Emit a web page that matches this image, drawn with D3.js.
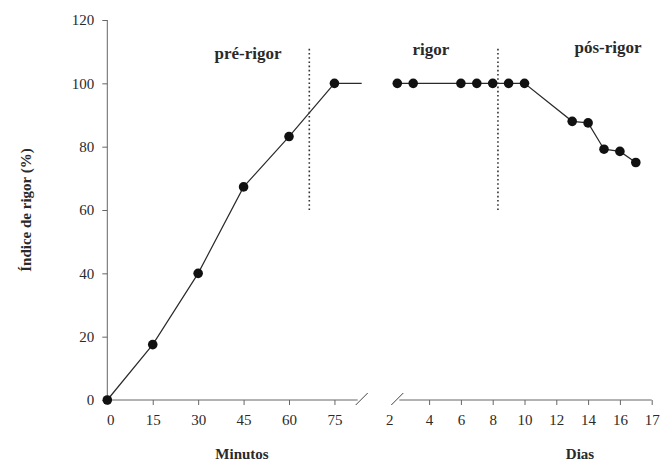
<!DOCTYPE html>
<html>
<head>
<meta charset="utf-8">
<script src="https://cdn.jsdelivr.net/npm/d3@7"></script>
<style>
  body { margin: 0; background: #fff; }
  svg text { font-family: 'Liberation Serif', 'Times New Roman', Times, 'DejaVu Serif', serif; fill: #2a2a2a; }
  .tick text { font-size: 15px; }
  .title { font-size: 15px; font-weight: bold; }
  .phase { font-size: 17px; font-weight: bold; }
</style>
</head>
<body>
<svg id="chart" width="660" height="461"></svg>
<script>
// data: minutes panel
const minutes = [0, 15, 30, 45, 60, 75];
const minutesRigor = [0, 17.5, 40, 67.3, 83.2, 100];
// data: days panel
const days = [2, 3, 6, 7, 8, 9, 10, 13, 14, 15, 16, 17];
const daysRigor = [100, 100, 100, 100, 100, 100, 100, 88, 87.5, 79.2, 78.5, 75];

const yTicks = [0, 20, 40, 60, 80, 100, 120];
const minuteTicks = [0, 15, 30, 45, 60, 75];
const dayTicks = [2, 4, 6, 8, 10, 12, 14, 16, 18];
const dayTickLabels = ["2", "4", "6", "8", "10", "12", "14", "16", "17"];

// phase separators (dotted), value range they span
const minuteSplit = 66.7;
const daySplit = 8.33;
const splitRange = [60, 111.6];

const serif = "Liberation Serif";
const svg = d3.select("#chart");

const plotTop = 20, plotBottom = 400;
const leftStart = 107.3, leftEnd = 361.7;
const rightStart = 397.3, rightEnd = 651.7;

const y = d3.scaleLinear().domain([0, 120]).range([plotBottom, plotTop]);
const xMin = d3.scaleLinear().domain([0, 84]).range([leftStart, leftEnd]);
const xDay = d3.scaleLinear().domain([2, 18]).range([rightStart, rightEnd]);

const axisColor = "#666";

// y axis
const yAxisG = svg.append("g")
  .attr("transform", `translate(${leftStart},0)`)
  .call(d3.axisLeft(y).tickValues(yTicks).tickSize(5).tickPadding(8));
yAxisG.select(".domain").attr("stroke", axisColor).attr("d", `M0,${plotBottom}V${plotTop}`);
yAxisG.selectAll(".tick line").attr("stroke", axisColor);

// x axis minutes
const xMinG = svg.append("g")
  .attr("transform", `translate(0,${plotBottom})`)
  .call(d3.axisBottom(xMin).tickValues(minuteTicks).tickSize(5).tickPadding(9));
xMinG.select(".domain").attr("stroke", axisColor)
  .attr("d", `M${leftStart},0H${leftEnd - 4}`);
xMinG.selectAll(".tick line").attr("stroke", axisColor);
xMinG.selectAll(".tick text").filter(d => d === 0).attr("dx", 3);

// x axis days
const xDayG = svg.append("g")
  .attr("transform", `translate(0,${plotBottom})`)
  .call(d3.axisBottom(xDay).tickValues(dayTicks).tickSize(5).tickPadding(9)
    .tickFormat((d, i) => dayTickLabels[i]));
xDayG.select(".domain").attr("stroke", axisColor)
  .attr("d", `M${rightStart + 2},0H${rightEnd}`);
xDayG.selectAll(".tick line").attr("stroke", axisColor).filter(d => d === 2).remove();
xDayG.selectAll(".tick text").filter(d => d === 2).attr("dx", -8);

svg.selectAll("g").attr("font-family", serif);

// break marks
[xMin(84), xDay(2)].forEach(cx => {
  svg.append("line")
    .attr("x1", cx - 6).attr("y1", plotBottom + 5)
    .attr("x2", cx + 6).attr("y2", plotBottom - 7)
    .attr("stroke", "#444").attr("stroke-width", 1);
});

// lines
const lineMin = d3.line().x(d => xMin(d[0])).y(d => y(d[1]));
const minPts = minutes.map((m, i) => [m, minutesRigor[i]]);
svg.append("path")
  .attr("d", lineMin(minPts.concat([[xMin.domain()[1], minutesRigor[minutesRigor.length - 1]]])))
  .attr("fill", "none").attr("stroke", "#2a2a2a").attr("stroke-width", 1.2);

const lineDay = d3.line().x(d => xDay(d[0])).y(d => y(d[1]));
const dayPts = days.map((d, i) => [d, daysRigor[i]]);
svg.append("path")
  .attr("d", lineDay(dayPts))
  .attr("fill", "none").attr("stroke", "#2a2a2a").attr("stroke-width", 1.2);

// dotted separators
[xMin(minuteSplit), xDay(daySplit)].forEach(cx => {
  svg.append("line")
    .attr("x1", cx).attr("x2", cx)
    .attr("y1", y(splitRange[0])).attr("y2", y(splitRange[1]))
    .attr("stroke", "#333").attr("stroke-width", 1.6)
    .attr("stroke-dasharray", "1.6,2.6");
});

// points
svg.selectAll(".pm").data(minPts).enter().append("circle")
  .attr("cx", d => xMin(d[0])).attr("cy", d => y(d[1]))
  .attr("r", 4.8).attr("fill", "#111");
svg.selectAll(".pd").data(dayPts).enter().append("circle")
  .attr("cx", d => xDay(d[0])).attr("cy", d => y(d[1]))
  .attr("r", 4.8).attr("fill", "#111");

// phase labels
svg.append("text").attr("class", "phase").attr("x", 248).attr("y", 59)
  .attr("text-anchor", "middle").text("pré-rigor");
svg.append("text").attr("class", "phase").attr("x", 431).attr("y", 55)
  .attr("text-anchor", "middle").text("rigor");
svg.append("text").attr("class", "phase").attr("x", 608).attr("y", 53)
  .attr("text-anchor", "middle").text("pós-rigor");

// axis titles
svg.append("text").attr("class", "title").attr("x", 242).attr("y", 459)
  .attr("text-anchor", "middle").text("Minutos");
svg.append("text").attr("class", "title").attr("x", 580).attr("y", 459)
  .attr("text-anchor", "middle").text("Dias");
svg.append("text").attr("class", "title")
  .attr("transform", "translate(31,210) rotate(-90)")
  .attr("text-anchor", "middle").text("Índice de rigor (%)");

svg.selectAll("text").attr("font-family", serif);
</script>
</body>
</html>
